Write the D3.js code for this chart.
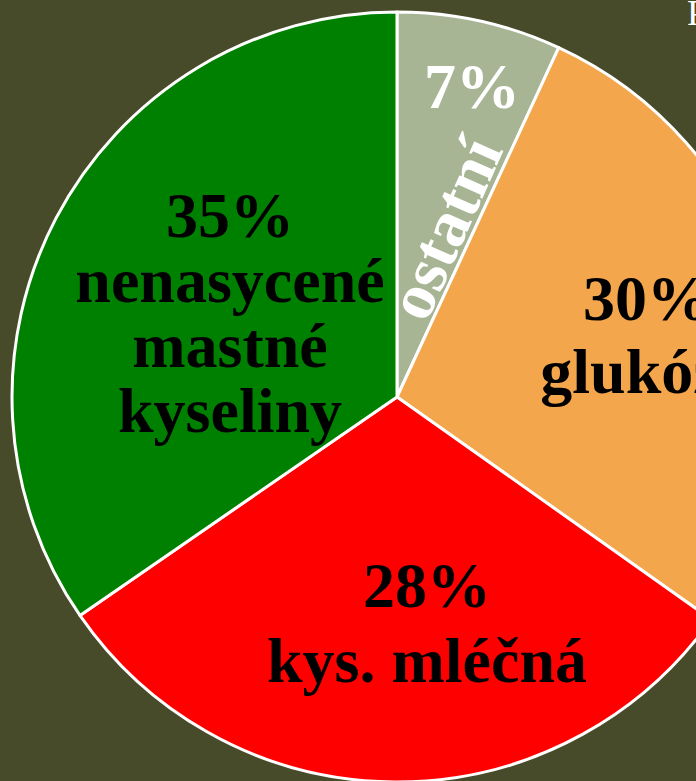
<!DOCTYPE html>
<html>
<head>
<meta charset="utf-8">
<script src="https://cdn.jsdelivr.net/npm/d3@7"></script>
<style>
  html, body { margin: 0; padding: 0; background: #474b2a; overflow: hidden; }
  svg { display: block; }
</style>
</head>
<body>
<script>
// slices clockwise from 12 o'clock
const categories = ["ostatní", "glukóza", "kys. mléčná", "nenasycené mastné kyseliny"];
const sliceValues = [6.9, 27.9, 30.6, 34.6];
const percentLabels = ["7%", "30%", "28%", "35%"];
const nameLines = [["ostatní"], ["glukóza"], ["kys. mléčná"], ["nenasycené", "mastné", "kyseliny"]];
const colors = ["#a8b595", "#f3a64b", "#ff0000", "#008000"];

const width = 696, height = 781;
const cx = 397, cy = 397, radius = 385;

const svg = d3.select("body").append("svg")
    .attr("width", width)
    .attr("height", height);

svg.append("rect").attr("width", width).attr("height", height).attr("fill", "#474b2a");

const pie = d3.pie().sort(null).startAngle(0).endAngle(2 * Math.PI);
const arc = d3.arc().innerRadius(0).outerRadius(radius);
const arcs = pie(sliceValues);

const g = svg.append("g").attr("transform", `translate(${cx},${cy})`);

g.selectAll("path")
    .data(arcs)
    .enter().append("path")
    .attr("d", arc)
    .attr("fill", (d, i) => colors[i])
    .attr("stroke", "white")
    .attr("stroke-width", 3)
    .attr("stroke-linejoin", "round");

// label blocks, offsets from pie centre
const labelLayout = [
    { x: 75, y: -289, lineH: 0, color: "white" },
    { x: 250, y: -77, lineH: 73, color: "black" },
    { x: 30, y: 210, lineH: 75, color: "black" },
    { x: -167, y: -160, lineH: 65, color: "black" }
];
const font = "'Liberation Serif', 'Times New Roman', serif";

arcs.forEach((d, i) => {
    const L = labelLayout[i];
    const lines = i === 0 ? [percentLabels[i]] : [percentLabels[i]].concat(nameLines[i]);
    const t = g.append("text")
        .attr("text-anchor", "middle")
        .attr("font-family", font)
        .attr("font-weight", "bold")
        .attr("font-size", 64)
        .attr("fill", L.color);
    lines.forEach((s, k) => {
        t.append("tspan").attr("x", L.x).attr("y", L.y + k * L.lineH).text(s);
    });
});

// rotated name inside the small slice
g.append("text")
    .attr("transform", "translate(68,-160) rotate(-66)")
    .attr("text-anchor", "middle")
    .attr("font-family", font)
    .attr("font-weight", "bold")
    .attr("font-size", 66)
    .attr("fill", "white")
    .text(nameLines[0][0]);

// cut-off title glyph at the top right edge
svg.append("text")
    .attr("x", 687).attr("y", 25)
    .attr("font-family", font)
    .attr("font-size", 36)
    .attr("fill", "white")
    .text("P");
</script>
</body>
</html>
